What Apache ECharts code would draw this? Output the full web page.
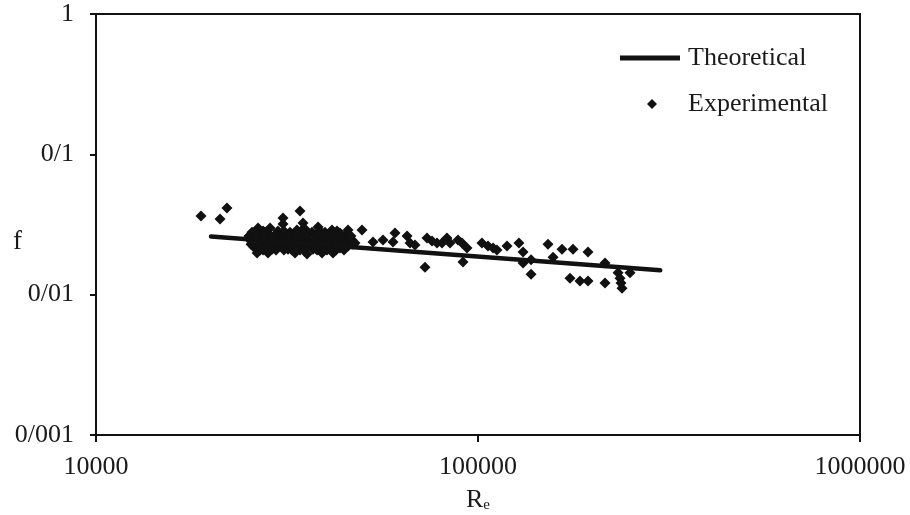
<!DOCTYPE html>
<html>
<head>
<meta charset="utf-8">
<script src="https://cdn.jsdelivr.net/npm/echarts@6/dist/echarts.min.js"></script>
<style>
  html, body { margin: 0; padding: 0; background: #fff; }
  #chart { width: 910px; height: 515px; }
</style>
</head>
<body>
<div id="chart"></div>
<script>
// Friction factor f against Reynolds number Re (log-log)

// Theoretical correlation, end points of the straight line
const theoreticalRe = [20000, 300000];
const theoreticalF = [0.0260, 0.0149];

// Experimental measurements
const experimentalRe = [
  18830, 21120, 22020, 30870, 30870, 34200, 34830, 38130,
  25610, 26560, 27700, 28550, 29950, 32200, 33580, 35250, 36770, 39760, 41480, 43520, 45680,
  26880, 29420, 32200, 34200, 37440, 40980, 44860,
  25300, 26240, 27200, 28200, 29240, 30310, 31430, 32590, 33790, 35040, 36330, 37670, 39050, 40490, 41980, 43520, 45130, 46790,
  25920, 26880, 27860, 28890, 30310, 31810, 33180, 34200, 35680, 37000, 38580, 40240, 41730, 43520, 45680, 47640,
  26400, 28200, 33180, 35680, 39050, 41730,
  25450, 26720, 28030, 29770, 31240, 32800, 34620, 36550, 38350, 40730, 42750, 44860, 47070,
  25140, 26240, 27530, 28720, 30870, 33390, 35680, 39050, 42750, 46500,
  27370, 29600, 31050, 32590, 35040, 37900, 39290, 42490, 44590,
  27370, 31050, 34410, 38580, 42750,
  49700, 53100, 56400, 60640, 59910, 65200, 66370, 68400, 72660, 73540, 75800, 78110, 80500, 82940, 84460, 88630, 90810, 93590, 91360,
  102400, 106200, 109500, 112100, 119100, 128000, 131200, 131200, 137700, 137700, 152500, 157200, 165900, 177300, 194100,
  174100, 184900, 194100, 215000, 215000, 232600, 235400, 236800, 238200, 250000
];
const experimentalF = [
  0.0363, 0.0346, 0.0414, 0.0352, 0.0319, 0.0394, 0.0324, 0.0303,
  0.0279, 0.0298, 0.0279, 0.0298, 0.0284, 0.0279, 0.0289, 0.0294, 0.0279, 0.0279, 0.0289, 0.0275, 0.0289,
  0.0266, 0.0266, 0.0262, 0.0270, 0.0266, 0.0266, 0.0262,
  0.0245, 0.0253, 0.0237, 0.0253, 0.0241, 0.0253, 0.0237, 0.0249, 0.0241, 0.0253, 0.0237, 0.0253, 0.0241, 0.0253, 0.0237, 0.0249, 0.0237, 0.0245,
  0.0218, 0.0208, 0.0222, 0.0211, 0.0222, 0.0211, 0.0222, 0.0208, 0.0222, 0.0211, 0.0222, 0.0208, 0.0222, 0.0215, 0.0222, 0.0233,
  0.0198, 0.0198, 0.0198, 0.0195, 0.0198, 0.0198,
  0.0229, 0.0229, 0.0229, 0.0229, 0.0229, 0.0229, 0.0229, 0.0229, 0.0229, 0.0229, 0.0229, 0.0229, 0.0229,
  0.0262, 0.0262, 0.0262, 0.0262, 0.0262, 0.0262, 0.0262, 0.0262, 0.0262, 0.0262,
  0.0208, 0.0208, 0.0208, 0.0208, 0.0208, 0.0208, 0.0208, 0.0208, 0.0208,
  0.0284, 0.0284, 0.0284, 0.0284, 0.0284,
  0.0289, 0.0237, 0.0245, 0.0275, 0.0237, 0.0262, 0.0233, 0.0226, 0.0157, 0.0253, 0.0241, 0.0233, 0.0233, 0.0253, 0.0233, 0.0245, 0.0233, 0.0215, 0.0171,
  0.0233, 0.0222, 0.0215, 0.0208, 0.0222, 0.0233, 0.0201, 0.0168, 0.0140, 0.0177, 0.0229, 0.0185, 0.0211, 0.0211, 0.0201,
  0.0131, 0.0125, 0.0125, 0.0168, 0.0121, 0.0143, 0.0131, 0.0121, 0.0111, 0.0143
];

// Axis tick labels (decimal separator written as "/")
const yTickValues = [0.001, 0.01, 0.1, 1];
const yTickLabels = ['0/001', '0/01', '0/1', '1'];
const xTickValues = [10000, 100000, 1000000];
const xTickLabels = ['10000', '100000', '1000000'];

const serif = '"Liberation Serif", "Times New Roman", serif';
const ink = '#111';
const textInk = '#1a1a1a';
const fontSize = 26;

function labelFor(values, labels, v) {
  const lv = Math.round(Math.log10(v));
  for (let i = 0; i < values.length; i++) {
    if (Math.round(Math.log10(values[i])) === lv) return labels[i];
  }
  return '';
}

const chart = echarts.init(document.getElementById('chart'), null, { renderer: 'canvas' });

chart.setOption({
  backgroundColor: '#fff',
  animation: false,
  grid: {
    left: 96, right: 50, top: 14, bottom: 80,
    containLabel: false,
    outerBoundsMode: 'none',
    show: true, borderColor: ink, borderWidth: 2, backgroundColor: 'transparent'
  },
  legend: [
    {
      data: [{ name: 'Theoretical', icon: 'rect' }],
      left: 615, top: 40,
      itemWidth: 60, itemHeight: 5,
      itemStyle: { color: ink },
      textStyle: { fontFamily: serif, fontSize: fontSize, color: textInk, padding: [0, 0, 0, 3] }
    },
    {
      data: [{ name: 'Experimental', icon: 'diamond' }],
      left: 642, top: 86,
      itemWidth: 10, itemHeight: 10,
      itemStyle: { color: ink, opacity: 1 },
      textStyle: { fontFamily: serif, fontSize: fontSize, color: textInk, padding: [0, 0, 0, 26] }
    }
  ],
  xAxis: {
    type: 'log', logBase: 10, min: 10000, max: 1000000,
    name: '{r|R}{s|e}',
    nameLocation: 'middle', nameGap: 52,
    nameMoveOverlap: false,
    nameTextStyle: {
      rich: {
        r: { fontFamily: serif, fontSize: fontSize, color: textInk },
        s: { fontFamily: serif, fontSize: 15, color: textInk, padding: [11, 0, 0, 0] }
      }
    },
    axisLine: { show: true, lineStyle: { color: ink, width: 2 } },
    axisTick: { show: true, inside: false, length: 7, lineStyle: { color: ink, width: 2 } },
    minorTick: { show: false },
    splitLine: { show: false },
    axisLabel: {
      fontFamily: serif, fontSize: fontSize, color: textInk, margin: 19,
      formatter: v => labelFor(xTickValues, xTickLabels, v)
    }
  },
  yAxis: {
    type: 'log', logBase: 10, min: 0.001, max: 1,
    name: 'f',
    nameLocation: 'middle', nameGap: 74, nameRotate: 0,
    nameMoveOverlap: false,
    nameTextStyle: { fontFamily: serif, fontSize: 27, color: textInk, verticalAlign: 'top', padding: [4, 0, 0, 0] },
    axisLine: { show: true, lineStyle: { color: ink, width: 2 } },
    axisTick: { show: true, inside: false, length: 6, lineStyle: { color: ink, width: 2 } },
    minorTick: { show: false },
    splitLine: { show: false },
    axisLabel: {
      fontFamily: serif, fontSize: fontSize, color: textInk, margin: 22,
      formatter: v => labelFor(yTickValues, yTickLabels, v)
    }
  },
  series: [
    {
      name: 'Theoretical',
      type: 'line',
      data: theoreticalRe.map((re, i) => [re, theoreticalF[i]]),
      symbol: 'none',
      lineStyle: { color: ink, width: 4.5, cap: 'round' },
      itemStyle: { color: ink },
      z: 3
    },
    {
      name: 'Experimental',
      type: 'scatter',
      data: experimentalRe.map((re, i) => [re, experimentalF[i]]),
      symbol: 'diamond',
      symbolSize: 11,
      itemStyle: { color: ink, opacity: 1 },
      z: 2
    }
  ]
});
</script>
</body>
</html>
